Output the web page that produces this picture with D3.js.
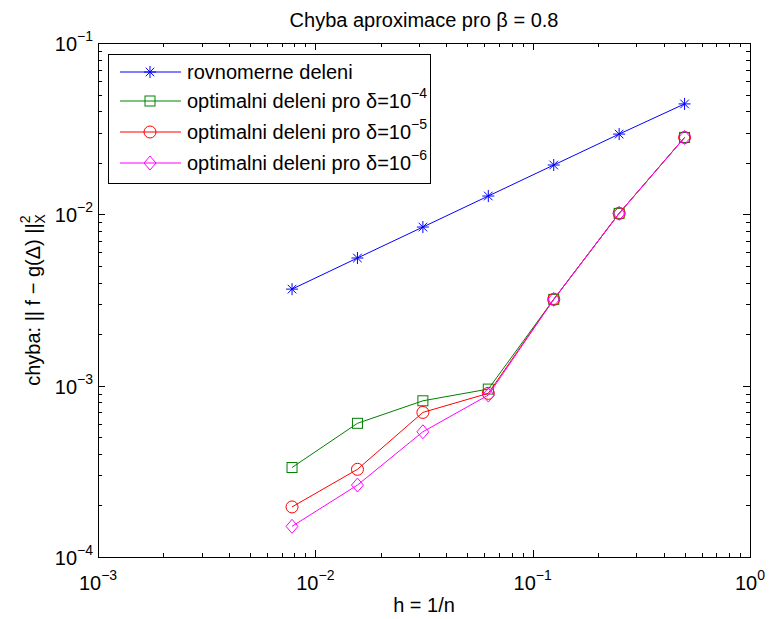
<!DOCTYPE html>
<html>
<head>
<meta charset="utf-8">
<script src="https://cdn.jsdelivr.net/npm/d3@7"></script>
<style>
  body { margin: 0; background: #fff; }
  text { font-family: "Liberation Sans", Arial, Helvetica, sans-serif; }
</style>
</head>
<body>
<svg id="chart" width="769" height="619"></svg>
<script>
// h = 1/n, n = 2 .. 128
const hValues = [0.0078125, 0.015625, 0.03125, 0.0625, 0.125, 0.25, 0.5]

const uniformErr = [3.66e-3, 5.56e-3, 8.43e-3, 1.279e-2, 1.94e-2, 2.94e-2, 4.41e-2]
const optErr4 = [3.33e-4, 6.03e-4, 8.16e-4, 9.55e-4, 3.19e-3, 1.013e-2, 2.81e-2]
const optErr5 = [1.96e-4, 3.25e-4, 6.98e-4, 9.02e-4, 3.19e-3, 1.013e-2, 2.81e-2]
const optErr6 = [1.51e-4, 2.63e-4, 5.38e-4, 8.81e-4, 3.19e-3, 1.013e-2, 2.81e-2]

const seriesNames = ['rovnomerne deleni', 'optimalni deleni pro δ=10', 'optimalni deleni pro δ=10', 'optimalni deleni pro δ=10']
const seriesExp = [null, '−4', '−5', '−6']
const seriesColors = ['#0000ff', '#008000', '#ff0000', '#ff00ff']
const seriesMarkers = ['star', 'square', 'circle', 'diamond']

const xTickExp = [-3, -2, -1, 0]
const yTickExp = [-4, -3, -2, -1]

const margin = { left: 98, right: 19, top: 43, bottom: 62 }
const width = 769, height = 619
const svg = d3.select('#chart')

const x = d3.scaleLog().domain([1e-3, 1]).range([margin.left, width - margin.right])
const y = d3.scaleLog().domain([1e-4, 1e-1]).range([height - margin.bottom, margin.top])

const x0 = x.range()[0], x1 = x.range()[1]
const y0 = y.range()[0], y1 = y.range()[1]

// minor + major ticks on all four sides, pointing inward
const minorVals = lo => {
  const out = []
  for (let e = lo[0]; e < lo[1]; e++)
    for (let m = 2; m <= 9; m++) out.push(m * Math.pow(10, e))
  return out
}
const ticks = svg.append('g').attr('stroke', '#000').attr('stroke-width', 1)
minorVals([-3, 0]).forEach(v => {
  const px = Math.round(x(v)) + 0.5
  ticks.append('line').attr('x1', px).attr('x2', px).attr('y1', y0).attr('y2', y0 - 4)
  ticks.append('line').attr('x1', px).attr('x2', px).attr('y1', y1).attr('y2', y1 + 4)
})
xTickExp.forEach(e => {
  const px = Math.round(x(Math.pow(10, e))) + 0.5
  ticks.append('line').attr('x1', px).attr('x2', px).attr('y1', y0).attr('y2', y0 - 7)
  ticks.append('line').attr('x1', px).attr('x2', px).attr('y1', y1).attr('y2', y1 + 7)
})
minorVals([-4, -1]).forEach(v => {
  const py = Math.round(y(v)) + 0.5
  ticks.append('line').attr('x1', x0).attr('x2', x0 + 4).attr('y1', py).attr('y2', py)
  ticks.append('line').attr('x1', x1).attr('x2', x1 - 4).attr('y1', py).attr('y2', py)
})
yTickExp.forEach(e => {
  const py = Math.round(y(Math.pow(10, e))) + 0.5
  ticks.append('line').attr('x1', x0).attr('x2', x0 + 7).attr('y1', py).attr('y2', py)
  ticks.append('line').attr('x1', x1).attr('x2', x1 - 7).attr('y1', py).attr('y2', py)
})

svg.append('rect')
  .attr('x', x0 + 0.5).attr('y', y1 + 0.5)
  .attr('width', x1 - x0).attr('height', y0 - y1)
  .attr('fill', 'none').attr('stroke', '#000').attr('stroke-width', 1)

// tick labels 10^e
const fs = 20, fsSup = 14
xTickExp.forEach(e => {
  const t = svg.append('text')
    .attr('x', x(Math.pow(10, e))).attr('y', y0 + 33)
    .attr('text-anchor', 'middle').attr('font-size', fs)
  t.append('tspan').text('10')
  t.append('tspan').attr('dy', -10).attr('font-size', fsSup).text(e === 0 ? '0' : '−' + (-e))
})
yTickExp.forEach(e => {
  const t = svg.append('text')
    .attr('x', x0 - 5).attr('y', y(Math.pow(10, e)) + 8)
    .attr('text-anchor', 'end').attr('font-size', fs)
  t.append('tspan').text('10')
  t.append('tspan').attr('dy', -10).attr('font-size', fsSup).text('−' + (-e))
})

// markers
const drawMarker = (g, type, cx, cy, color) => {
  if (type === 'star') {
    const r = 6, d = 4.3
    g.append('path')
      .attr('d', `M${cx - r},${cy}H${cx + r}M${cx},${cy - r}V${cy + r}M${cx - d},${cy - d}L${cx + d},${cy + d}M${cx - d},${cy + d}L${cx + d},${cy - d}`)
      .attr('stroke', color).attr('fill', 'none')
  } else if (type === 'square') {
    g.append('rect').attr('x', cx - 5).attr('y', cy - 5).attr('width', 10).attr('height', 10)
      .attr('stroke', color).attr('fill', 'none')
  } else if (type === 'circle') {
    g.append('circle').attr('cx', cx).attr('cy', cy).attr('r', 6)
      .attr('stroke', color).attr('fill', 'none')
  } else if (type === 'diamond') {
    g.append('path').attr('d', `M${cx},${cy - 7}L${cx + 6},${cy}L${cx},${cy + 7}L${cx - 6},${cy}Z`)
      .attr('stroke', color).attr('fill', 'none')
  }
}

const allSeries = [uniformErr, optErr4, optErr5, optErr6]
const line = d3.line().x(d => x(d[0])).y(d => y(d[1]))

allSeries.forEach((vals, i) => {
  const pts = hValues.map((h, j) => [h, vals[j]])
  const g = svg.append('g')
  g.append('path').datum(pts).attr('d', line)
    .attr('fill', 'none').attr('stroke', seriesColors[i]).attr('stroke-width', 1)
  pts.forEach(p => drawMarker(g, seriesMarkers[i], x(p[0]), y(p[1]), seriesColors[i]))
})

// legend
const leg = svg.append('g')
leg.append('rect').attr('x', 108.5).attr('y', 54.5).attr('width', 322).attr('height', 129)
  .attr('fill', '#fff').attr('stroke', '#000')
const legY = [72, 101, 132, 163]
seriesNames.forEach((name, i) => {
  const ly = legY[i]
  leg.append('line').attr('x1', 120).attr('x2', 181).attr('y1', ly).attr('y2', ly)
    .attr('stroke', seriesColors[i])
  drawMarker(leg, seriesMarkers[i], 150, ly, seriesColors[i])
  const t = leg.append('text').attr('x', 187).attr('y', ly + 7).attr('font-size', fs)
  t.append('tspan').text(name)
  if (seriesExp[i]) t.append('tspan').attr('dy', -10).attr('font-size', fsSup).text(seriesExp[i])
})

// title and axis labels
svg.append('text').attr('x', (x0 + x1) / 2).attr('y', 27)
  .attr('text-anchor', 'middle').attr('font-size', fs)
  .text('Chyba aproximace pro β = 0.8')

svg.append('text').attr('x', (x0 + x1) / 2).attr('y', 612)
  .attr('text-anchor', 'middle').attr('font-size', fs)
  .text('h = 1/n')

const yl = svg.append('text')
  .attr('transform', `translate(40,${(y0 + y1) / 2}) rotate(-90)`)
  .attr('text-anchor', 'middle').attr('font-size', fs)
yl.append('tspan').text('chyba: || f − g(Δ) ||')
yl.append('tspan').attr('dy', -10).attr('font-size', fsSup).text('2')
yl.append('tspan').attr('dy', 15).attr('dx', -8).attr('font-size', fsSup).text('X')
</script>
</body>
</html>
